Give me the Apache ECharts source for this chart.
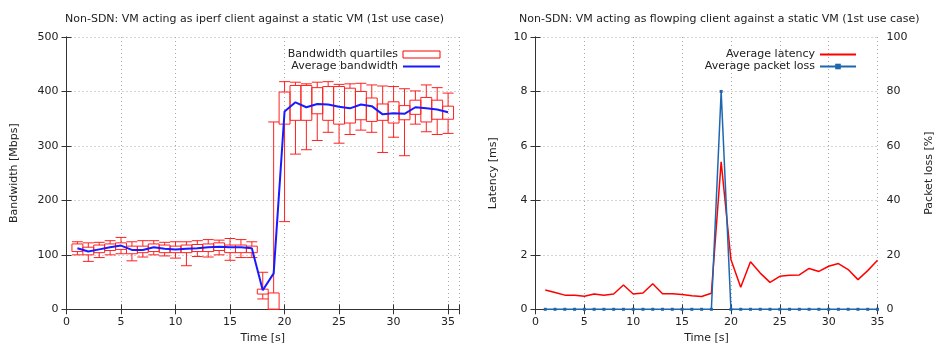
<!DOCTYPE html>
<html>
<head>
<meta charset="utf-8">
<script src="https://cdn.jsdelivr.net/npm/echarts@6/dist/echarts.min.js"></script>
<style>
html,body{margin:0;padding:0;background:#fff;}
#main{width:936px;height:354px;}
</style>
</head>
<body>
<div id="main"></div>
<script>
// ---- Data ----
var leftTitle = 'Non-SDN: VM acting as iperf client against a static VM (1st use case)';
var rightTitle = 'Non-SDN: VM acting as flowping client against a static VM (1st use case)';
var seconds = [1,2,3,4,5,6,7,8,9,10,11,12,13,14,15,16,17,18,19,20,21,22,23,24,25,26,27,28,29,30,31,32,33,34,35];
var bwMin  = [100,88,95,100,102,89,96,100,98,94,80,97,96,100,90,95,95,19,0,161,285,293,310,325,305,321,329,325,288,316,282,340,326,321,323];
var bwQ1   = [106,100,104,108,110,102,104,106,104,104,104,106,106,108,104,104,104,28,0,340,347,347,359,347,340,342,348,345,347,342,348,358,344,349,349];
var bwQ3   = [120,114,118,120,122,116,116,120,118,116,118,119,120,122,118,118,116,37,30,399,411,411,407,409,409,406,400,388,377,381,374,384,389,384,373];
var bwMax  = [124,122,123,126,132,124,126,126,123,124,124,126,128,127,130,128,124,68,344,418,417,414,417,418,413,414,415,412,410,409,405,401,412,407,397];
var bwMean = [112,106,110,114,117,109,109,114,111,110,111,112,114,115,114,114,112,35,66,363,380,371,377,376,372,369,376,373,358,360,359,371,369,367,362];
var latency = [0.71,0.62,0.52,0.52,0.48,0.56,0.52,0.56,0.89,0.56,0.60,0.94,0.57,0.57,0.54,0.50,0.47,0.59,5.42,1.83,0.81,1.75,1.33,0.99,1.21,1.25,1.26,1.50,1.39,1.58,1.68,1.46,1.09,1.42,1.80];
var packetLoss = [0,0,0,0,0,0,0,0,0,0,0,0,0,0,0,0,0,0,80,0,0,0,0,0,0,0,0,0,0,0,0,0,0,0,0];
var xTicks = [0,5,10,15,20,25,30,35];

// ---- Build ----
var FONT = 'DejaVu Sans';
var TXT = '#222';
var AX = '#333';
var GRIDC = '#a8a8a8';

var boxData = seconds.map(function(s,i){ return [s, bwMin[i], bwQ1[i], bwQ3[i], bwMax[i]]; });
var meanData = seconds.map(function(s,i){ return [s, bwMean[i]]; });
var latData = seconds.map(function(s,i){ return [s, latency[i]]; });
var lossData = seconds.map(function(s,i){ return [s, packetLoss[i]]; });

function xLabelFmt(v){ return xTicks.indexOf(v) >= 0 ? String(v) : ''; }

function baseX(gridIndex, max){
  return {
    type:'value', gridIndex:gridIndex, min:0, max:max, interval:5,
    axisLine:{show:true, lineStyle:{color:AX, width:1}},
    axisTick:{show:true, inside:true, length:5, lineStyle:{color:AX}},
    axisLabel:{show:true, color:TXT, fontFamily:FONT, fontSize:11, margin:7, formatter:xLabelFmt, showMaxLabel:true},
    splitLine:{show:true, lineStyle:{color:GRIDC, type:[1,3], width:1}},
    name:'Time [s]', nameLocation:'middle', nameGap:17,
    nameTextStyle:{color:TXT, fontFamily:FONT, fontSize:11}
  };
}
function mirrorX(gridIndex, max){
  return {
    type:'value', gridIndex:gridIndex, position:'top', min:0, max:max, interval:5,
    axisLine:{show:true, lineStyle:{color:AX, width:1}},
    axisTick:{show:true, inside:true, length:5, lineStyle:{color:AX}},
    axisLabel:{show:false}, splitLine:{show:false}
  };
}

var chart = echarts.init(document.getElementById('main'), null, {renderer:'canvas'});
var option = {
  animation:false,
  backgroundColor:'#fff',
  textStyle:{fontFamily:FONT},
  title:[
    {text:leftTitle, left:60, top:9, textStyle:{color:TXT, fontFamily:FONT, fontSize:11, fontWeight:'normal'}},
    {text:rightTitle, left:514, top:9, textStyle:{color:TXT, fontFamily:FONT, fontSize:11, fontWeight:'normal'}}
  ],
  grid:[
    {left:66.5, top:37, width:392.5, height:272.3, show:false},
    {left:535.5, top:37, width:342, height:272.3, show:false}
  ],
  legend:[
    {
      orient:'vertical', align:'right', right:490, top:44, itemWidth:37, itemHeight:7, itemGap:1,
      textStyle:{color:TXT, fontFamily:FONT, fontSize:11},
      data:[
        {name:'Bandwidth quartiles', icon:'rect', itemStyle:{color:'rgba(0,0,0,0)', borderColor:'#ff0000', borderWidth:1}},
        {name:'Average bandwidth', itemStyle:{opacity:0}}
      ]
    },
    {
      orient:'vertical', align:'right', right:74, top:44, itemWidth:36, itemHeight:7, itemGap:1,
      textStyle:{color:TXT, fontFamily:FONT, fontSize:11},
      data:[{name:'Average latency', itemStyle:{opacity:0}},{name:'Average packet loss'}]
    }
  ],
  xAxis:[
    baseX(0, 36),
    mirrorX(0, 36),
    baseX(1, 35),
    mirrorX(1, 35)
  ],
  yAxis:[
    {
      type:'value', gridIndex:0, min:0, max:500, interval:100,
      axisLine:{show:true, lineStyle:{color:AX}},
      axisTick:{show:true, inside:true, length:5, lineStyle:{color:AX}},
      axisLabel:{color:TXT, fontFamily:FONT, fontSize:11, margin:8},
      splitLine:{show:true, lineStyle:{color:GRIDC, type:[1,3]}},
      name:'Bandwidth [Mbps]', nameLocation:'middle', nameGap:47, nameRotate:90,
      nameTextStyle:{color:TXT, fontFamily:FONT, fontSize:11}
    },
    {
      type:'value', gridIndex:0, position:'right', min:0, max:500, interval:100,
      axisLine:{show:true, lineStyle:{color:AX}},
      axisTick:{show:true, inside:true, length:5, lineStyle:{color:AX}},
      axisLabel:{show:false}, splitLine:{show:false}
    },
    {
      type:'value', gridIndex:1, min:0, max:10, interval:2,
      axisLine:{show:true, lineStyle:{color:AX}},
      axisTick:{show:true, inside:true, length:5, lineStyle:{color:AX}},
      axisLabel:{color:TXT, fontFamily:FONT, fontSize:11, margin:8},
      splitLine:{show:true, lineStyle:{color:GRIDC, type:[1,3]}},
      name:'Latency [ms]', nameLocation:'middle', nameGap:37, nameRotate:90,
      nameTextStyle:{color:TXT, fontFamily:FONT, fontSize:11}
    },
    {
      type:'value', gridIndex:1, position:'right', min:0, max:100, interval:20,
      axisLine:{show:true, lineStyle:{color:AX}},
      axisTick:{show:true, inside:true, length:5, lineStyle:{color:AX}},
      axisLabel:{color:TXT, fontFamily:FONT, fontSize:11, margin:9},
      splitLine:{show:false},
      name:'Packet loss [%]', nameLocation:'middle', nameGap:46, nameRotate:90,
      nameTextStyle:{color:TXT, fontFamily:FONT, fontSize:11}
    }
  ],
  series:[
    {
      name:'Bandwidth quartiles', type:'custom', xAxisIndex:0, yAxisIndex:0,
      encode:{x:0, y:[1,2,3,4]},
      itemStyle:{color:'#ff0000'},
      data:boxData,
      renderItem:function(params, api){
        var x = api.value(0);
        var pMin = api.coord([x, api.value(1)]);
        var pQ1 = api.coord([x, api.value(2)]);
        var pQ3 = api.coord([x, api.value(3)]);
        var pMax = api.coord([x, api.value(4)]);
        var w = api.size([1, 0])[0];
        var h = w / 2;
        var st = {stroke:'#ff2020', lineWidth:1, fill:null};
        return {type:'group', children:[
          {type:'rect', shape:{x:pQ1[0]-h, y:pQ3[1], width:w, height:pQ1[1]-pQ3[1]}, style:{stroke:'#ff2020', lineWidth:1, fill:'rgba(0,0,0,0)'}},
          {type:'line', shape:{x1:pMax[0], y1:pMax[1], x2:pQ3[0], y2:pQ3[1]}, style:st},
          {type:'line', shape:{x1:pMin[0], y1:pMin[1], x2:pQ1[0], y2:pQ1[1]}, style:st},
          {type:'line', shape:{x1:pMax[0]-h, y1:pMax[1], x2:pMax[0]+h, y2:pMax[1]}, style:st},
          {type:'line', shape:{x1:pMin[0]-h, y1:pMin[1], x2:pMin[0]+h, y2:pMin[1]}, style:st}
        ]};
      },
      z:2
    },
    {
      name:'Average bandwidth', type:'line', xAxisIndex:0, yAxisIndex:0,
      data:meanData, symbol:'none', lineStyle:{color:'#1a1aff', width:2}, itemStyle:{color:'#1a1aff'}, z:3
    },
    {
      name:'Average latency', type:'line', xAxisIndex:2, yAxisIndex:2,
      data:latData, symbol:'none', lineStyle:{color:'#ff0000', width:1.5}, itemStyle:{color:'#ff0000'}, z:3
    },
    {
      name:'Average packet loss', type:'line', xAxisIndex:2, yAxisIndex:3,
      data:lossData, symbol:'rect', symbolSize:3, showSymbol:true,
      lineStyle:{color:'#1f66b0', width:1.5}, itemStyle:{color:'#1f66b0'}, z:4
    }
  ]
};
chart.setOption(option);
</script>
</body>
</html>
